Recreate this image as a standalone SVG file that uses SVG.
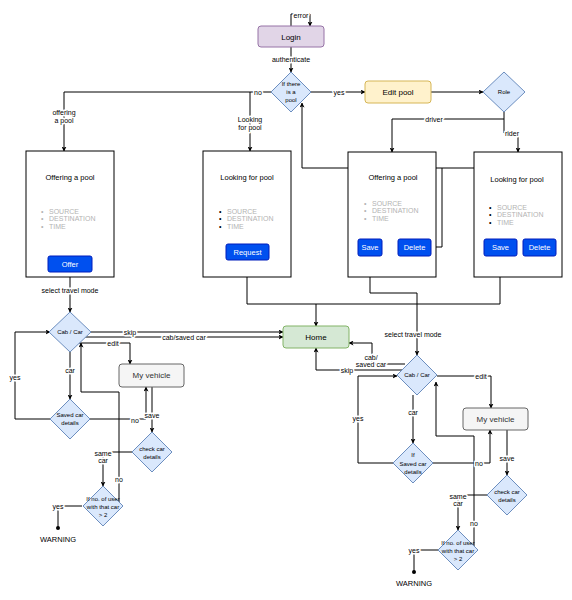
<svg xmlns="http://www.w3.org/2000/svg" width="572" height="600" viewBox="0 0 572 600">
<defs>
<marker id="arr" viewBox="0 0 10 10" refX="9" refY="5" markerWidth="5" markerHeight="5" orient="auto-start-reverse" markerUnits="userSpaceOnUse">
<path d="M0,0 L10,5 L0,10 L2.5,5 Z" fill="#000"/>
</marker>
</defs>
<style>
text{font-family:"Liberation Sans",Arial,sans-serif;fill:#000;text-anchor:middle;dominant-baseline:central}
.lbl{font-size:7px;paint-order:stroke;stroke:#fff;stroke-width:3px;stroke-linejoin:round}
.dt{font-size:6px}
.nt{font-size:8px}
.ttl{font-size:7.5px}
.bul{font-size:7px;fill:#b3b3b3;text-anchor:start}
.dot{font-size:7px;text-anchor:start}
.btn{fill:#0050ef;stroke:#001dbc;stroke-width:1}
.bt{font-size:7.5px;fill:#fff}
.dia{fill:#dae8fc;stroke:#6c8ebf;stroke-width:1;stroke-linejoin:round}
.card{fill:#fff;stroke:#000;stroke-width:1}
.e{fill:none;stroke:#000;stroke-width:1}
.ea{fill:none;stroke:#000;stroke-width:1;marker-end:url(#arr)}
</style>
<rect width="572" height="600" fill="#fff"/>

<g id="connectors">
<path class="ea" d="M291,26 V14 H310 V26"/>
<path class="ea" d="M291,47 V72"/>
<path class="ea" d="M311,92 H365"/>
<path class="ea" d="M431,92 H483"/>
<path class="ea" d="M271,92 H64 V151"/>
<path class="ea" d="M250,92 V151"/>
<path class="ea" d="M504,112 V119 H392 V152"/>
<path class="ea" d="M504,119 V133 H518 V152"/>
<path class="ea" d="M431,247 H442 V168 H302 V103"/>
<path class="e" d="M550,239 V168 H442"/>
<path class="e" d="M247,260 V304 H500 V256"/>
<path class="ea" d="M316,304 V326"/>
<path class="ea" d="M370,256 V293 H417 V355"/>
<path class="ea" d="M70,272 V312"/>
<path class="ea" d="M91,332 H283"/>
<path class="ea" d="M82,337 H283"/>
<path class="ea" d="M79,343 H130 V364"/>
<path class="ea" d="M70,352 V399"/>
<path class="ea" d="M50,419 H15 V332 H50"/>
<path class="ea" d="M90,419 H146 V387"/>
<path class="ea" d="M152,387 V432"/>
<path class="ea" d="M132,452 H103 V486"/>
<path class="ea" d="M119,502 V392 H81 V343"/>
<path class="e" d="M82,506 H58 V528"/>
<circle cx="58" cy="528" r="2" fill="#000"/>
<path class="ea" d="M405,364 H372 V343 H349"/>
<path class="ea" d="M402,370 H316 V348"/>
<path class="ea" d="M437,376 H491 V408"/>
<path class="ea" d="M413,395 V443"/>
<path class="ea" d="M393,463 H358 V376 H397"/>
<path class="ea" d="M433,463 H490 V430"/>
<path class="ea" d="M507,430 V475"/>
<path class="ea" d="M487,495 H458 V530"/>
<path class="ea" d="M474,546 V436 H436 V382"/>
<path class="e" d="M438,550 H414 V572"/>
<circle cx="414" cy="572" r="2" fill="#000"/>
</g>

<g id="edge-labels">
<text class="lbl" x="301" y="15">error</text>
<text class="lbl" x="291" y="59">authenticate</text>
<text class="lbl" x="339" y="92">yes</text>
<text class="lbl" x="258" y="92">no</text>
<text class="lbl" x="64" y="112">offering</text>
<text class="lbl" x="64" y="120">a pool</text>
<text class="lbl" x="250" y="119">Looking</text>
<text class="lbl" x="250" y="127">for pool</text>
<text class="lbl" x="434" y="119">driver</text>
<text class="lbl" x="512" y="133">rider</text>
<text class="lbl" x="70" y="290">select travel mode</text>
<text class="lbl" x="413" y="334">select travel mode</text>
<text class="lbl" x="130" y="332">skip</text>
<text class="lbl" x="184" y="337">cab/saved car</text>
<text class="lbl" x="113" y="343">edit</text>
<text class="lbl" x="70" y="370">car</text>
<text class="lbl" x="15" y="377">yes</text>
<text class="lbl" x="135" y="420">no</text>
<text class="lbl" x="152" y="415">save</text>
<text class="lbl" x="103" y="453">same</text>
<text class="lbl" x="103" y="460">car</text>
<text class="lbl" x="119" y="479">no</text>
<text class="lbl" x="58" y="506">yes</text>
<text class="nt" x="58" y="539" style="font-size:7.5px">WARNING</text>
<text class="lbl" x="371" y="357">cab/</text>
<text class="lbl" x="371" y="364">saved car</text>
<text class="lbl" x="347" y="370">skip</text>
<text class="lbl" x="481" y="376">edit</text>
<text class="lbl" x="413" y="412">car</text>
<text class="lbl" x="358" y="418">yes</text>
<text class="lbl" x="479" y="463">no</text>
<text class="lbl" x="507" y="458">save</text>
<text class="lbl" x="458" y="496">same</text>
<text class="lbl" x="458" y="503">car</text>
<text class="lbl" x="474" y="523">no</text>
<text class="lbl" x="414" y="550">yes</text>
<text class="nt" x="414" y="583" style="font-size:7.5px">WARNING</text>
</g>

<g id="login">
<rect x="258" y="26" width="66" height="21" rx="3" fill="#e1d5e7" stroke="#9673a6"/>
<text class="nt" x="291" y="37">Login</text>
</g>

<g id="if-pool">
<path class="dia" d="M291,72 L311,92 L291,112 L271,92 Z"/>
<text class="dt" x="291" y="84">If there</text>
<text class="dt" x="291" y="92">is a</text>
<text class="dt" x="291" y="100">pool</text>
</g>

<g id="edit-pool">
<rect x="365" y="81" width="66" height="22" rx="3" fill="#fff2cc" stroke="#d6b656"/>
<text class="nt" x="398" y="92">Edit pool</text>
</g>

<g id="role">
<path class="dia" d="M504,72 L525,92 L504,112 L483,92 Z"/>
<text class="dt" x="504" y="92">Role</text>
</g>

<g id="offer-left">
<rect class="card" x="26" y="151" width="88" height="126"/>
<text class="ttl" x="70" y="177">Offering a pool</text>
<text class="bul" x="41" y="211">•</text><text class="bul" x="49" y="211">SOURCE</text>
<text class="bul" x="41" y="218.5">•</text><text class="bul" x="49" y="218.5">DESTINATION</text>
<text class="bul" x="41" y="226">•</text><text class="bul" x="49" y="226">TIME</text>
<rect class="btn" x="48" y="256" width="44" height="16" rx="2"/>
<text class="bt" x="70" y="264">Offer</text>
</g>

<g id="look-left">
<rect class="card" x="203" y="151" width="88" height="126"/>
<text class="ttl" x="247" y="177">Looking for pool</text>
<text class="dot" x="219" y="211">•</text><text class="bul" x="227" y="211">SOURCE</text>
<text class="dot" x="219" y="218.5">•</text><text class="bul" x="227" y="218.5">DESTINATION</text>
<text class="dot" x="219" y="226">•</text><text class="bul" x="227" y="226">TIME</text>
<rect class="btn" x="226" y="244" width="43" height="16" rx="2"/>
<text class="bt" x="247.5" y="252">Request</text>
</g>

<g id="offer-right">
<rect class="card" x="348" y="152" width="88" height="125"/>
<text class="ttl" x="393" y="177">Offering a pool</text>
<text class="bul" x="364" y="203">•</text><text class="bul" x="372" y="203">SOURCE</text>
<text class="bul" x="364" y="210.5">•</text><text class="bul" x="372" y="210.5">DESTINATION</text>
<text class="bul" x="364" y="218">•</text><text class="bul" x="372" y="218">TIME</text>
<rect class="btn" x="358" y="239" width="24" height="17" rx="2"/>
<text class="bt" x="370" y="247.5">Save</text>
<rect class="btn" x="398" y="239" width="33" height="17" rx="2"/>
<text class="bt" x="414.5" y="247.5">Delete</text>
</g>

<g id="look-right">
<rect class="card" x="474" y="152" width="88" height="125"/>
<text class="ttl" x="517" y="179">Looking for pool</text>
<text class="dot" x="489" y="207">•</text><text class="bul" x="497" y="207">SOURCE</text>
<text class="dot" x="489" y="214.5">•</text><text class="bul" x="497" y="214.5">DESTINATION</text>
<text class="dot" x="489" y="222">•</text><text class="bul" x="497" y="222">TIME</text>
<rect class="btn" x="484" y="239" width="33" height="17" rx="2"/>
<text class="bt" x="500.5" y="247.5">Save</text>
<rect class="btn" x="523" y="239" width="33" height="17" rx="2"/>
<text class="bt" x="539.5" y="247.5">Delete</text>
</g>

<g id="home">
<rect x="283" y="326" width="66" height="22" rx="3" fill="#d5e8d4" stroke="#82b366"/>
<text class="nt" x="316" y="337">Home</text>
</g>

<g id="cab-left">
<path class="dia" d="M70,312 L91,332 L70,352 L49,332 Z"/>
<text class="dt" x="70" y="332">Cab / Car</text>
</g>

<g id="vehicle-left">
<rect x="119" y="364" width="65" height="23" rx="3" fill="#f5f5f5" stroke="#666"/>
<text class="nt" x="151.5" y="375.5" style="fill:#333">My vehicle</text>
</g>

<g id="saved-left">
<path class="dia" d="M70,399 L90,419 L70,439 L50,419 Z"/>
<text class="dt" x="70" y="415">Saved car</text>
<text class="dt" x="70" y="423">details</text>
</g>

<g id="check-left">
<path class="dia" d="M152,432 L172,452 L152,472 L132,452 Z"/>
<text class="dt" x="152" y="449">check car</text>
<text class="dt" x="152" y="457">details</text>
</g>

<g id="users-left">
<path class="dia" d="M103,486 L123,506 L103,526 L83,506 Z"/>
<text class="dt" x="103" y="499">If no. of user</text>
<text class="dt" x="103" y="507">with that car</text>
<text class="dt" x="103" y="515">&gt; 2</text>
</g>

<g id="cab-right">
<path class="dia" d="M417,355 L437,375 L417,395 L397,375 Z"/>
<text class="dt" x="417" y="375">Cab / Car</text>
</g>

<g id="vehicle-right">
<rect x="463" y="408" width="65" height="22" rx="3" fill="#f5f5f5" stroke="#666"/>
<text class="nt" x="495.5" y="419" style="fill:#333">My vehicle</text>
</g>

<g id="saved-right">
<path class="dia" d="M413,443 L433,463 L413,483 L393,463 Z"/>
<text class="dt" x="413" y="455">If</text>
<text class="dt" x="413" y="463.5">Saved car</text>
<text class="dt" x="413" y="472">details</text>
</g>

<g id="check-right">
<path class="dia" d="M507,475 L527,495 L507,515 L487,495 Z"/>
<text class="dt" x="507" y="492">check car</text>
<text class="dt" x="507" y="500">details</text>
</g>

<g id="users-right">
<path class="dia" d="M458,530 L478,550 L458,570 L438,550 Z"/>
<text class="dt" x="458" y="543">If no. of user</text>
<text class="dt" x="458" y="551">with that car</text>
<text class="dt" x="458" y="559">&gt; 2</text>
</g>
</svg>
